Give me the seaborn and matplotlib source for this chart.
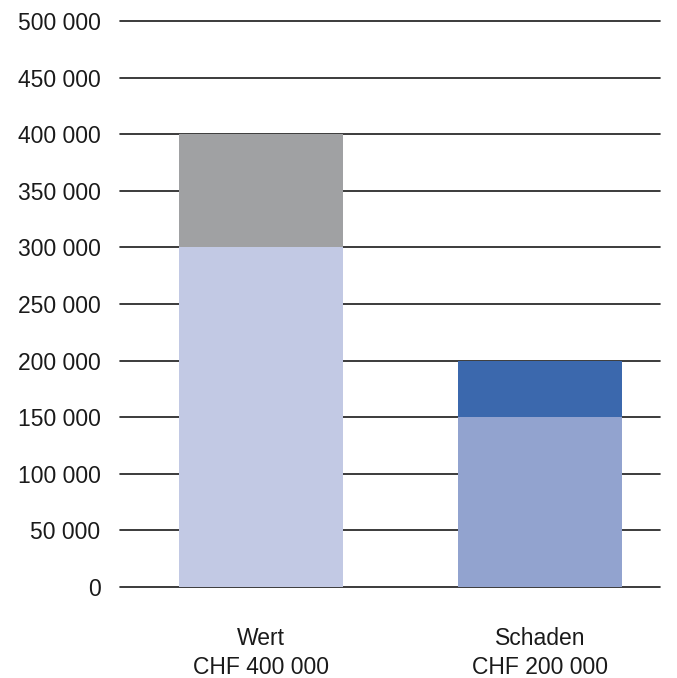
import pandas as pd
import matplotlib
matplotlib.use("Agg")
import matplotlib.pyplot as plt
import seaborn as sns
from matplotlib.ticker import FuncFormatter

# Daten
categories = ["Wert\nCHF 400 000", "Schaden\nCHF 200 000"]
base_values = [300000, 150000]
top_values = [100000, 50000]
totals = [b + t for b, t in zip(base_values, top_values)]

base_colors = ["#c2c9e4", "#92a3cf"]
top_colors = ["#a0a1a3", "#3b68ad"]

sns.set_theme(style="white")
plt.rcParams["font.family"] = ["Liberation Sans", "DejaVu Sans"]

df = pd.DataFrame({"kategorie": categories, "basis": base_values, "total": totals})

fig = plt.figure(figsize=(6.77, 6.78), dpi=100)
ax = fig.add_axes([0.1773, 0.1342, 0.7977, 0.8348])

# obere Teile (Gesamt), dann untere Teile darüber
sns.barplot(data=df, x="kategorie", y="total", hue="kategorie", palette=top_colors,
            width=0.588, legend=False, ax=ax, zorder=2, saturation=1, linewidth=0)
sns.barplot(data=df, x="kategorie", y="basis", hue="kategorie", palette=base_colors,
            width=0.588, legend=False, ax=ax, zorder=3, saturation=1, linewidth=0)

ax.set_ylim(0, 500000)
ax.set_xlim(-0.505, 1.43)
ax.set_yticks(range(0, 500001, 50000))
ax.yaxis.set_major_formatter(FuncFormatter(lambda v, p: f"{int(v):,}".replace(",", " ") if v else "0"))
ax.grid(axis="y", color="#1a1a1a", linewidth=1.2, zorder=1)
for gl in ax.get_ygridlines():
    gl.set_clip_on(False)
ax.set_axisbelow(True)
for s in ax.spines.values():
    s.set_visible(False)
ax.tick_params(axis="y", length=0, pad=14, labelsize=16.5, labelcolor="#1a1a1a")
ax.tick_params(axis="x", length=0, pad=29, labelsize=16.5, labelcolor="#1a1a1a")
for lbl in ax.get_xticklabels():
    lbl.set_linespacing(1.3)
ax.set_xlabel("")
ax.set_ylabel("")

fig.savefig("out.png", dpi=100)
